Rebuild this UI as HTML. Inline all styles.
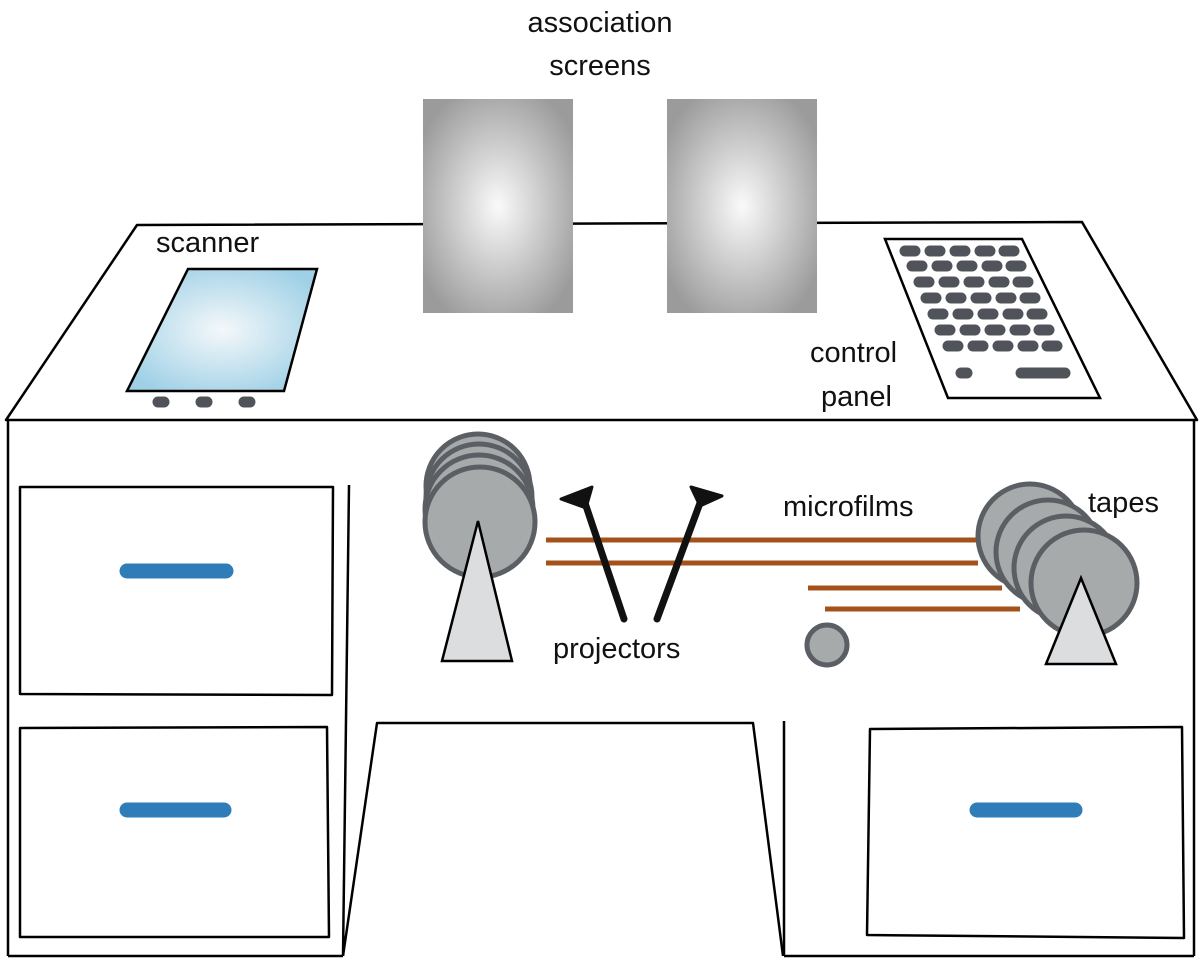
<!DOCTYPE html>
<html><head><meta charset="utf-8"><style>
html,body{margin:0;padding:0;background:#fff;}
svg text{font-family:"Liberation Sans",sans-serif;fill:#111;}
</style></head><body>
<svg width="1200" height="959" viewBox="0 0 1200 959" xmlns="http://www.w3.org/2000/svg">
<defs>
<radialGradient id="scr" cx="50%" cy="50%" r="60%">
<stop offset="0" stop-color="#fafafa"/><stop offset="1" stop-color="#9b9b9b"/></radialGradient>
<radialGradient id="scan" cx="50%" cy="50%" r="60%">
<stop offset="0" stop-color="#f4f8fa"/><stop offset="1" stop-color="#9fd0e6"/></radialGradient>
</defs>
<g fill="none" stroke="#000" stroke-width="2.5" stroke-linejoin="round">
<path d="M6,420 L137,225 L1082,222 L1197,420 Z" fill="#fff"/>
<line x1="8" y1="420" x2="8" y2="956"/>
<line x1="1194" y1="420" x2="1194" y2="956"/>
<line x1="8" y1="956" x2="343" y2="956"/>
<line x1="784" y1="956" x2="1194" y2="956"/>
<line x1="349" y1="485" x2="343" y2="956"/>
<path d="M343,956 L377,723 L753,723 L783,956"/>
<line x1="784" y1="721" x2="784" y2="956"/>
<path d="M20,487 L333,487 L332,695 L20,694 Z"/>
<path d="M20,728 L327,727 L329,937 L20,937 Z"/>
<path d="M870,729 L1182,727 L1184,938 L867,935 Z"/>
</g>
<g stroke="#2f7db8" stroke-width="15" stroke-linecap="round">
<line x1="127" y1="571" x2="226" y2="571"/>
<line x1="127" y1="810" x2="224" y2="810"/>
<line x1="977" y1="810" x2="1075" y2="810"/>
</g>
<rect x="423" y="99" width="150" height="214" fill="url(#scr)"/>
<rect x="667" y="99" width="150" height="214" fill="url(#scr)"/>
<path d="M188,269 L317,269 L284,391 L127,391 Z" fill="url(#scan)" stroke="#000" stroke-width="2.5"/>
<g stroke="#50545a" stroke-width="11" stroke-linecap="round">
<line x1="158" y1="402" x2="164" y2="402"/><line x1="201" y1="402" x2="207" y2="402"/><line x1="244" y1="402" x2="250" y2="402"/>
</g>
<path d="M885,239 L1022,239 L1100,398 L948,398 Z" fill="#fff" stroke="#000" stroke-width="2.5"/>
<g stroke="#50545a" stroke-width="11" stroke-linecap="round">
<g id="row"><line x1="905" y1="251" x2="915" y2="251"/><line x1="930" y1="251" x2="940" y2="251"/><line x1="955" y1="251" x2="965" y2="251"/><line x1="980" y1="251" x2="990" y2="251"/><line x1="1004" y1="251" x2="1014" y2="251"/></g>
<use href="#row" transform="translate(7,15)"/>
<use href="#row" transform="translate(14,31)"/>
<use href="#row" transform="translate(21,47)"/>
<use href="#row" transform="translate(28,63)"/>
<use href="#row" transform="translate(35,79)"/>
<use href="#row" transform="translate(43,95)"/>
<line x1="961" y1="373" x2="967" y2="373"/>
<line x1="1021" y1="373" x2="1065" y2="373"/>
</g>
<g fill="#a7aaab" stroke="#5b5f64" stroke-width="5">
<circle cx="478" cy="486" r="52"/><circle cx="479" cy="497" r="53"/><circle cx="479" cy="509" r="54"/><circle cx="480" cy="522" r="55"/>
</g>
<path d="M478,521 L512,661 L442,661 Z" fill="#dcdddf" stroke="#000" stroke-width="2.5"/>
<g stroke="#a5511c" stroke-width="5">
<line x1="546" y1="540" x2="980" y2="540"/>
<line x1="546" y1="563" x2="978" y2="563"/>
<line x1="808" y1="588" x2="1002" y2="588"/>
<line x1="825" y1="609" x2="1020" y2="609"/>
</g>
<g fill="#a7aaab" stroke="#5b5f64" stroke-width="5">
<circle cx="1030" cy="536" r="52"/><circle cx="1048" cy="552" r="52"/><circle cx="1066" cy="568" r="52"/><circle cx="1084" cy="583" r="53"/>
</g>
<path d="M1081,578 L1116,664 L1046,664 Z" fill="#dcdddf" stroke="#000" stroke-width="2.5"/>
<circle cx="827" cy="645" r="20" fill="#a7aaab" stroke="#5b5f64" stroke-width="5"/>
<g stroke="#111" stroke-width="7" stroke-linecap="round">
<line x1="624" y1="619" x2="584" y2="500"/>
<line x1="657" y1="619" x2="703" y2="495"/>
</g>
<path d="M561,499 L592,487 L586,508 Z" fill="#111" stroke="#111" stroke-width="3" stroke-linejoin="round"/>
<path d="M691,487 L722,496 L700,506 Z" fill="#111" stroke="#111" stroke-width="3" stroke-linejoin="round"/>
<g font-size="29">
<text x="600" y="32" text-anchor="middle">association</text>
<text x="600" y="75" text-anchor="middle">screens</text>
<text x="156" y="252">scanner</text>
<text x="810" y="362">control</text>
<text x="821" y="406">panel</text>
<text x="783" y="516">microfilms</text>
<text x="1088" y="512">tapes</text>
<text x="553" y="658">projectors</text>
</g>
</svg>
</body></html>
